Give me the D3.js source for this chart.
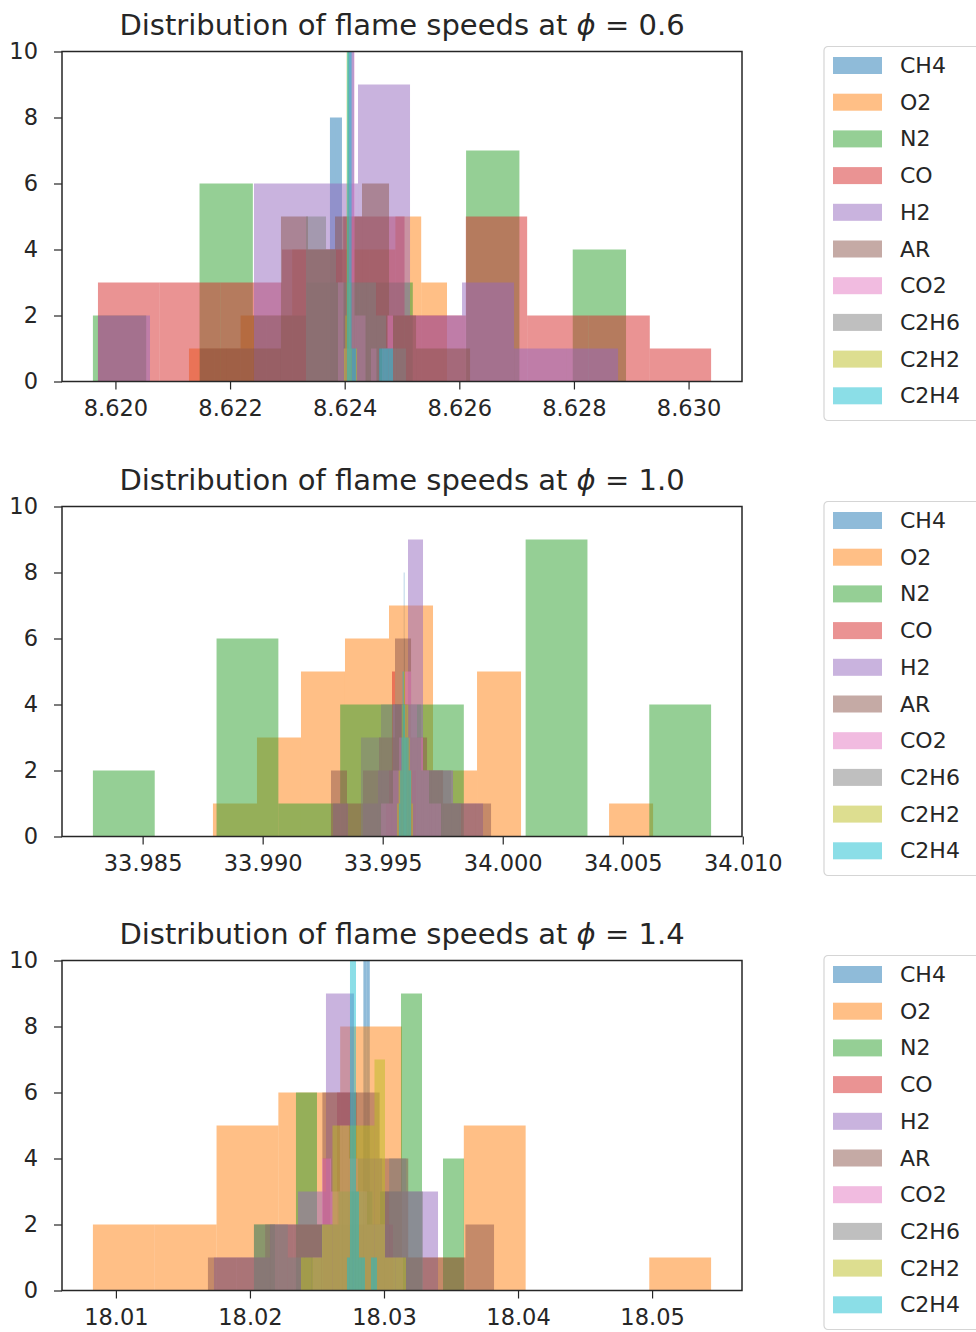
<!DOCTYPE html>
<html>
<head>
<meta charset="utf-8">
<script src="https://cdn.jsdelivr.net/npm/d3@7"></script>
<style>
  body { margin: 0; background: #fff; }
  text { font-family: "DejaVu Sans", sans-serif; fill: #262626; }
</style>
</head>
<body>
<div id="chart"></div>
<script>
// gases, in the order they were plotted
var species = ["CH4", "O2", "N2", "CO", "H2", "AR", "CO2", "C2H6", "C2H2", "C2H4"]
var colors = ["#1f77b4", "#ff7f0e", "#2ca02c", "#d62728", "#9467bd", "#8c564b", "#e377c2", "#7f7f7f", "#bcbd22", "#17becf"]
var phis = ["0.6", "1.0", "1.4"]

// [min, max] of each gas sample, 10 bins each
var range06 = [[8.623743, 8.624791], [8.621283, 8.625785], [8.619607, 8.628909], [8.619695, 8.630393], [8.619695, 8.628770],
               [8.621475, 8.626187], [8.623883, 8.624843], [8.623325, 8.625070], [8.623988, 8.624215], [8.624040, 8.624843]]
var counts06 = [[8, 8, 0, 12, 0, 0, 0, 0, 1, 1],
                [1, 1, 2, 2, 4, 4, 4, 4, 5, 3],
                [2, 0, 6, 2, 3, 3, 0, 7, 0, 4],
                [3, 3, 3, 4, 5, 2, 5, 2, 2, 1],
                [2, 0, 0, 6, 6, 9, 2, 3, 1, 1],
                [1, 1, 1, 5, 4, 5, 6, 2, 1, 1],
                [3, 1, 14, 2, 2, 0, 1, 0, 1, 2],
                [5, 5, 4, 3, 3, 3, 3, 2, 1, 1],
                [1, 2, 12, 10, 3, 1, 0, 0, 0, 1],
                [15, 1, 0, 0, 0, 0, 0, 1, 1, 1]]

var range10 = [[33.995804, 33.996054], [33.987929, 34.006263], [33.982929, 34.008679], [33.995138, 33.996388], [33.992929, 33.999179],
               [33.992846, 33.999513], [33.994929, 33.997429], [33.994096, 33.998263], [33.995596, 33.996263], [33.995679, 33.996179]]
var counts10 = [[1, 1, 2, 8, 6, 4, 3, 2, 2, 1],
                [1, 3, 5, 6, 7, 2, 5, 0, 0, 1],
                [2, 0, 6, 1, 4, 4, 0, 9, 0, 4],
                [1, 2, 5, 4, 4, 3, 4, 3, 2, 2],
                [1, 0, 1, 2, 4, 9, 2, 2, 1, 1],
                [2, 1, 2, 3, 6, 3, 2, 1, 1, 1],
                [1, 1, 2, 3, 5, 4, 3, 2, 1, 1],
                [3, 3, 4, 4, 4, 4, 2, 2, 2, 1],
                [1, 2, 2, 4, 5, 4, 4, 3, 2, 1],
                [1, 2, 3, 5, 4, 3, 3, 3, 2, 2]]

var range14 = [[18.026791, 18.029179], [18.008284, 18.054403], [18.020299, 18.035970], [18.025448, 18.030672], [18.013134, 18.034030],
               [18.016866, 18.038209], [18.024701, 18.031418], [18.020299, 18.032910], [18.023806, 18.031642], [18.027239, 18.029478]]
var counts14 = [[1, 0, 1, 2, 6, 1, 1, 12, 12, 1],
                [2, 2, 5, 6, 8, 1, 5, 0, 0, 1],
                [2, 0, 6, 2, 2, 2, 3, 9, 0, 4],
                [4, 2, 6, 6, 3, 2, 3, 2, 2, 2],
                [0, 0, 1, 1, 2, 3, 9, 4, 3, 3],
                [1, 1, 2, 2, 6, 6, 4, 1, 1, 2],
                [1, 4, 3, 5, 4, 3, 2, 2, 1, 1],
                [2, 2, 1, 1, 2, 3, 3, 2, 4, 3],
                [1, 1, 2, 5, 5, 5, 5, 7, 1, 1],
                [1, 12, 12, 3, 1, 1, 0, 0, 1, 1]]

var xTicks06 = [8.620, 8.622, 8.624, 8.626, 8.628, 8.630]
var xTicks10 = [33.985, 33.990, 33.995, 34.000, 34.005, 34.010]
var xTicks14 = [18.01, 18.02, 18.03, 18.04, 18.05]
var yTicks = [0, 2, 4, 6, 8, 10]

var panels = [
    {phi: phis[0], ranges: range06, counts: counts06, ticks: xTicks06, fmt: ".3f"},
    {phi: phis[1], ranges: range10, counts: counts10, ticks: xTicks10, fmt: ".3f"},
    {phi: phis[2], ranges: range14, counts: counts14, ticks: xTicks14, fmt: ".2f"}
]

var W = 976, H = 1332
var left = 62, plotW = 680, plotH = 330
var tops = [51.5, 506.5, 960.5]

var svg = d3.select("#chart").append("svg")
    .attr("width", W)
    .attr("height", H)

panels.forEach(function (p, k) {
    var top = tops[k]
    var g = svg.append("g").attr("transform", "translate(" + left + "," + top + ")")

    // x limits like matplotlib: data extent + 5% each side
    var lo = d3.min(p.ranges, d => d[0]), hi = d3.max(p.ranges, d => d[1])
    var pad = (hi - lo) * 0.05
    var x = d3.scaleLinear().domain([lo - pad, hi + pad]).range([0, plotW])
    var y = d3.scaleLinear().domain([0, 10]).range([plotH, 0])

    g.append("clipPath").attr("id", "clip" + k)
        .append("rect").attr("width", plotW).attr("height", plotH)

    var bars = g.append("g").attr("clip-path", "url(#clip" + k + ")")

    species.forEach(function (s, i) {
        var r = p.ranges[i]
        var step = (r[1] - r[0]) / 10
        var bins = p.counts[i].map(function (c, j) {
            return {x0: r[0] + j * step, x1: r[0] + (j + 1) * step, n: c}
        }).filter(b => b.n > 0)

        bars.selectAll(".bar" + i)
            .data(bins)
            .enter().append("rect")
            .attr("class", "bar" + i)
            .attr("x", d => x(d.x0))
            .attr("width", d => Math.max(0.6, x(d.x1) - x(d.x0)))
            .attr("y", d => y(d.n))
            .attr("height", d => plotH - y(d.n))
            .attr("fill", colors[i])
            .attr("fill-opacity", 0.5)
    })

    // axes
    var xAxis = d3.axisBottom(x).tickValues(p.ticks).tickFormat(d3.format(p.fmt))
        .tickSize(8).tickPadding(8)
    var yAxis = d3.axisLeft(y).tickValues(yTicks).tickSize(8).tickPadding(16)

    var gx = g.append("g").attr("transform", "translate(0," + plotH + ")").call(xAxis)
    var gy = g.append("g").call(yAxis)
    ;[gx, gy].forEach(function (a) {
        a.select(".domain").remove()
        a.selectAll("line").attr("stroke", "#262626").attr("stroke-width", 1.2)
        a.selectAll("text").attr("font-size", 22.5).attr("font-family", "DejaVu Sans").attr("fill", "#262626")
    })
    gx.selectAll("text").attr("dy", "0.8em")

    g.append("rect")
        .attr("width", plotW).attr("height", plotH)
        .attr("fill", "none").attr("stroke", "#262626").attr("stroke-width", 1.5)

    // title
    var title = g.append("text")
        .attr("x", plotW / 2).attr("y", -17)
        .attr("text-anchor", "middle")
        .attr("font-size", 29)
    title.append("tspan").text("Distribution of flame speeds at ")
    title.append("tspan").attr("font-style", "italic").text("ϕ")
    title.append("tspan").text(" = " + p.phi)

    // legend (sits to the right, partly off the canvas)
    var lg = svg.append("g").attr("transform", "translate(824," + (top - 5) + ")")
    lg.append("rect")
        .attr("width", 180).attr("height", 374).attr("rx", 4)
        .attr("fill", "#fff").attr("fill-opacity", 0.8)
        .attr("stroke", "#d5d5d5").attr("stroke-width", 1.2)
    species.forEach(function (s, i) {
        var cy = 19 + i * 36.7
        lg.append("rect")
            .attr("x", 9).attr("y", cy - 8.5)
            .attr("width", 49).attr("height", 17)
            .attr("fill", colors[i]).attr("fill-opacity", 0.5)
        lg.append("text")
            .attr("x", 76).attr("y", cy + 7.5)
            .attr("font-size", 22)
            .text(s)
    })
})
</script>
</body>
</html>
